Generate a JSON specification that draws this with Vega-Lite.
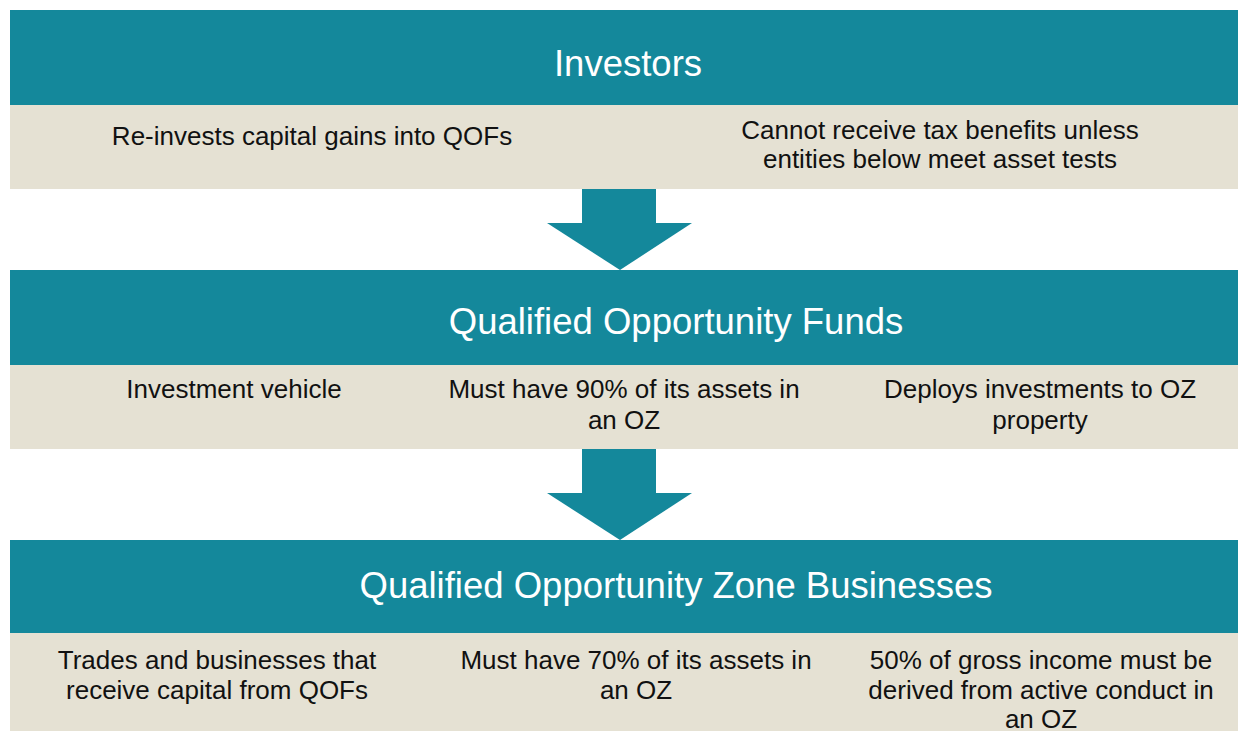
{
  "$schema": "https://vega.github.io/schema/vega-lite/v6.json",
  "width": 1238,
  "height": 731,
  "autosize": "none",
  "padding": 0,
  "background": "white",
  "config": {"view": {"stroke": null}},
  "datasets": {
    "boxes": [
      {"part": "header", "x": 10, "x2": 1238, "y": 10, "y2": 105},
      {"part": "body", "x": 10, "x2": 1238, "y": 105, "y2": 189},
      {"part": "arrow", "x": 582, "x2": 656, "y": 189, "y2": 223},
      {"part": "header", "x": 10, "x2": 1238, "y": 270, "y2": 365},
      {"part": "body", "x": 10, "x2": 1238, "y": 365, "y2": 449},
      {"part": "arrow", "x": 582, "x2": 656, "y": 449, "y2": 493},
      {"part": "header", "x": 10, "x2": 1238, "y": 540, "y2": 633},
      {"part": "body", "x": 10, "x2": 1238, "y": 633, "y2": 731}
    ],
    "heads": [
      {"arrow": "a1", "part": "arrow", "x": 547, "y": 223, "y2": 223},
      {"arrow": "a1", "part": "arrow", "x": 620, "y": 223, "y2": 270},
      {"arrow": "a1", "part": "arrow", "x": 692, "y": 223, "y2": 223},
      {"arrow": "a2", "part": "arrow", "x": 547, "y": 493, "y2": 493},
      {"arrow": "a2", "part": "arrow", "x": 620, "y": 493, "y2": 540},
      {"arrow": "a2", "part": "arrow", "x": 692, "y": 493, "y2": 493}
    ],
    "titles": [
      {"text": "Investors", "x": 628, "y": 65},
      {"text": "Qualified Opportunity Funds", "x": 676, "y": 323},
      {"text": "Qualified Opportunity Zone Businesses", "x": 676, "y": 587}
    ],
    "lines": [
      {"text": "Re-invests capital gains into QOFs", "x": 312, "y": 137},
      {"text": "Cannot receive tax benefits unless", "x": 940, "y": 131},
      {"text": "entities below meet asset tests", "x": 940, "y": 160},
      {"text": "Investment vehicle", "x": 234, "y": 390},
      {"text": "Must have 90% of its assets in", "x": 624, "y": 390},
      {"text": "an OZ", "x": 624, "y": 421},
      {"text": "Deploys investments to OZ", "x": 1040, "y": 390},
      {"text": "property", "x": 1040, "y": 421},
      {"text": "Trades and businesses that", "x": 217, "y": 661},
      {"text": "receive capital from QOFs", "x": 217, "y": 691},
      {"text": "Must have 70% of its assets in", "x": 636, "y": 661},
      {"text": "an OZ", "x": 636, "y": 691},
      {"text": "50% of gross income must be", "x": 1041, "y": 661},
      {"text": "derived from active conduct in", "x": 1041, "y": 691},
      {"text": "an OZ", "x": 1041, "y": 720}
    ]
  },
  "layer": [
    {
      "data": {"name": "boxes"},
      "mark": {"type": "rect"},
      "encoding": {
        "x": {"field": "x", "type": "quantitative", "scale": {"domain": [0, 1238], "range": [0, 1238]}, "axis": null},
        "x2": {"field": "x2"},
        "y": {"field": "y", "type": "quantitative", "scale": {"domain": [0, 731], "range": [0, 731]}, "axis": null},
        "y2": {"field": "y2"},
        "color": {"field": "part", "type": "nominal", "scale": {"domain": ["header", "body", "arrow"], "range": ["#14889B", "#E5E1D3", "#14889B"]}, "legend": null}
      }
    },
    {
      "data": {"name": "heads"},
      "mark": {"type": "area", "orient": "vertical", "interpolate": "linear"},
      "encoding": {
        "x": {"field": "x", "type": "quantitative", "scale": {"domain": [0, 1238], "range": [0, 1238]}, "axis": null},
        "y": {"field": "y", "type": "quantitative", "scale": {"domain": [0, 731], "range": [0, 731]}, "axis": null},
        "y2": {"field": "y2"},
        "detail": {"field": "arrow", "type": "nominal"},
        "color": {"field": "part", "type": "nominal", "scale": {"domain": ["header", "body", "arrow"], "range": ["#14889B", "#E5E1D3", "#14889B"]}, "legend": null}
      }
    },
    {
      "data": {"name": "titles"},
      "mark": {"type": "text", "font": "Liberation Sans", "fontSize": 36.5, "color": "white", "align": "center", "baseline": "middle"},
      "encoding": {
        "x": {"field": "x", "type": "quantitative", "scale": {"domain": [0, 1238], "range": [0, 1238]}, "axis": null},
        "y": {"field": "y", "type": "quantitative", "scale": {"domain": [0, 731], "range": [0, 731]}, "axis": null},
        "text": {"field": "text"}
      }
    },
    {
      "data": {"name": "lines"},
      "mark": {"type": "text", "font": "Liberation Sans", "fontSize": 26, "color": "#111111", "align": "center", "baseline": "middle"},
      "encoding": {
        "x": {"field": "x", "type": "quantitative", "scale": {"domain": [0, 1238], "range": [0, 1238]}, "axis": null},
        "y": {"field": "y", "type": "quantitative", "scale": {"domain": [0, 731], "range": [0, 731]}, "axis": null},
        "text": {"field": "text"}
      }
    }
  ]
}
